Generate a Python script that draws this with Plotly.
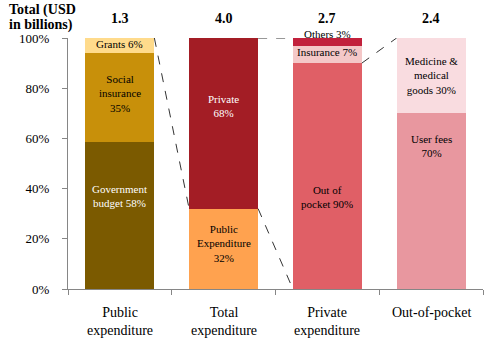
import plotly.graph_objects as go

categories = ["Public<br>expenditure", "Total<br>expenditure", "Private<br>expenditure", "Out-of-pocket"]
totals = ["1.3", "4.0", "2.7", "2.4"]

public_names = ["Government budget", "Social insurance", "Grants"]
public_values = [58, 35, 6]
public_labels = ["Government<br>budget 58%", "Social<br>insurance<br>35%", "Grants 6%"]

total_names = ["Public Expenditure", "Private"]
total_values = [32, 68]
total_labels = ["Public<br>Expenditure<br>32%", "Private<br>68%"]

private_names = ["Out of pocket", "Insurance", "Others"]
private_values = [90, 7, 3]
private_labels = ["Out of<br>pocket 90%", "Insurance 7%", "Others 3%"]

oop_names = ["User fees", "Medicine & medical goods"]
oop_values = [70, 30]
oop_labels = ["User fees<br>70%", "Medicine &<br>medical<br>goods 30%"]

y_ticks = [0, 20, 40, 60, 80, 100]
y_tick_labels = ["0%", "20%", "40%", "60%", "80%", "100%"]
title_lines = ["Total (USD", "in billions)"]

# styling
colors = [
    ["#7B5A00", "#C8900A", "#FFDB8C"],
    ["#FFA24F", "#A31D25"],
    ["#E05F66", "#F4C8C8", "#C2213C"],
    ["#E8979F", "#F9DCE0"],
]
label_colors = [
    ["white", "black", "black"],
    ["black", "white"],
    ["black", "black", "black"],
    ["black", "black"],
]
label_y = [
    [37, 78, 97.5],
    [18, 73],
    [36.5, 94.5, 101.5],
    [57, 85],
]

FONT = "Liberation Serif, DejaVu Serif, serif"
BAR_W = 0.665

groups = [
    (public_names, public_values, public_labels),
    (total_names, total_values, total_labels),
    (private_names, private_values, private_labels),
    (oop_names, oop_values, oop_labels),
]

fig = go.Figure()
annotations = []
cum = []
for i, (names, vals, labs) in enumerate(groups):
    s = sum(vals)
    tops = []
    acc = 0
    for j, (n, v) in enumerate(zip(names, vals)):
        fig.add_trace(go.Bar(
            x=[i], y=[v], name=n, width=BAR_W,
            marker=dict(color=colors[i][j], line=dict(width=0)),
            hoverinfo="skip", showlegend=False,
        ))
        acc += v / s * 100
        tops.append(acc)
        annotations.append(dict(
            x=i, y=label_y[i][j] / 100, xref="x", yref="paper", text=labs[j],
            showarrow=False, yanchor="middle", xanchor="center",
            font=dict(family=FONT, size=11, color=label_colors[i][j]),
            align="center",
        ))
    cum.append(tops)

# connectors
h = BAR_W / 2
conn = [
    (0 + h, 100, 1 - h, cum[1][0]),
    (1 + h, 100, 2 - h, 100),
    (1 + h, cum[1][0], 2 - h, 0),
    (2 + h, cum[2][0], 3 - h, 100),
]
shapes = []
for x0, y0, x1, y1 in conn:
    shapes.append(dict(type="line", xref="x", yref="y", x0=x0, y0=y0, x1=x1, y1=y1,
                       line=dict(color="#333333", width=1, dash="dash")))

for i, c in enumerate(categories):
    annotations.append(dict(x=i, y=0, xref="x", yref="paper", yshift=-14, text=c,
                            showarrow=False, yanchor="top",
                            font=dict(family=FONT, size=14, color="black")))
    annotations.append(dict(x=i, y=1, xref="x", yref="paper", yshift=20, text="<b>%s</b>" % totals[i],
                            showarrow=False, yanchor="middle",
                            font=dict(family=FONT, size=14, color="black")))
for k, line in enumerate(title_lines):
    annotations.append(dict(x=0, y=1, xref="paper", yref="paper", xshift=-61, yshift=28 - 15 * k,
                            text="<b>%s</b>" % line, showarrow=False,
                            xanchor="left", yanchor="middle",
                            font=dict(family=FONT, size=14, color="black")))

fig.update_layout(
    width=494, height=340,
    margin=dict(l=68, r=11, t=38, b=51),
    barmode="stack", barnorm="percent",
    plot_bgcolor="white", paper_bgcolor="white",
    font=dict(family=FONT, color="black"),
    shapes=shapes, annotations=annotations,
    xaxis=dict(range=[-0.5, 3.5], tickvals=[-0.5, 0.5, 1.5, 2.5, 3.5], ticktext=["", "", "", "", ""],
               ticks="outside", ticklen=5, tickcolor="#868686", showline=True, linecolor="#868686",
               showgrid=False, zeroline=False),
    yaxis=dict(range=[0, 100], tickmode="array", tickvals=y_ticks, ticktext=y_tick_labels,
               ticks="outside", ticklen=5, tickcolor="#868686", showline=True, linecolor="#868686",
               showgrid=False, zeroline=False, ticklabelstandoff=10,
               tickfont=dict(family=FONT, size=13, color="black")),
)

fig.write_html("out.html")
